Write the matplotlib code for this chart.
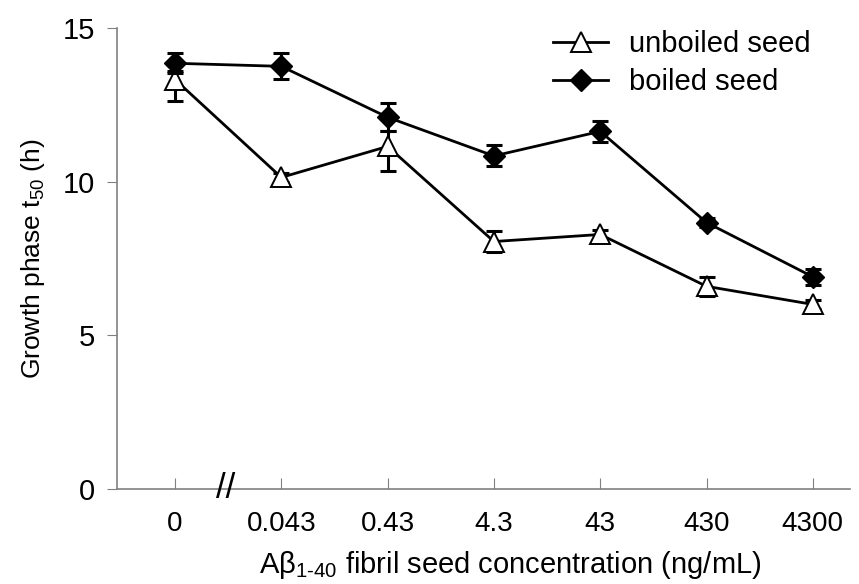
import numpy as np
import matplotlib.pyplot as plt

plt.rcParams['font.family'] = ['Liberation Sans', 'DejaVu Sans']
plt.rcParams['mathtext.fontset'] = 'custom'
plt.rcParams['mathtext.rm'] = 'Liberation Sans'
plt.rcParams['mathtext.it'] = 'Liberation Sans:italic'
plt.rcParams['mathtext.default'] = 'regular'

concentrations = ['0', '0.043', '0.43', '4.3', '43', '430', '4300']

unboiled = [13.33, 10.14, 11.15, 8.05, 8.28, 6.59, 6.0]
unboiled_err_low = [0.71, 0.15, 0.8, 0.35, 0.15, 0.3, 0.15]
unboiled_err_high = [0.27, 0.15, 0.5, 0.35, 0.15, 0.3, 0.15]

boiled = [13.86, 13.76, 12.1, 10.84, 11.64, 8.67, 6.9]
boiled_err = [0.32, 0.42, 0.45, 0.34, 0.34, 0.15, 0.27]

fig = plt.figure(figsize=(8.59, 5.84), dpi=100)
ax = fig.add_axes([117 / 859, 1 - 488.5 / 584, (850 - 117) / 859, (488.5 - 28.3) / 584])

x = np.arange(len(concentrations))

ax.errorbar(x, unboiled, yerr=[unboiled_err_low, unboiled_err_high], fmt='none', ecolor='black',
            capsize=6, capthick=2.2, elinewidth=2.2, zorder=3)
ax.errorbar(x, boiled, yerr=boiled_err, fmt='none', ecolor='black',
            capsize=6, capthick=2.2, elinewidth=2.2, zorder=4)
l1, = ax.plot(x, unboiled, color='black', lw=2, marker='^', ms=14, mfc='white', mec='black',
              mew=1.4, label='unboiled seed', zorder=3)
l2, = ax.plot(x, boiled, color='black', lw=2, marker='D', ms=11, mfc='black', mec='black',
              label='boiled seed', zorder=4)

ax.set_xlim(-0.546, 6.35)
ax.set_ylim(0, 15)
ax.set_yticks([0, 5, 10, 15])
ax.set_xticks(x)
ax.set_xticklabels(concentrations, fontsize=20)
ax.tick_params(axis='y', labelsize=21, direction='out', length=7, color='#808080', pad=9)
ax.tick_params(axis='x', direction='in', length=8, color='#808080', pad=16)

for side in ['top', 'right']:
    ax.spines[side].set_visible(False)
for side in ['left', 'bottom']:
    ax.spines[side].set_color('#808080')
    ax.spines[side].set_linewidth(1.2)

# axis break mark
ax.text(0.48, 0, '//', ha='center', va='center', fontsize=25,
        transform=ax.get_xaxis_transform(), clip_on=False)

ax.set_ylabel('Growth phase t$_{50}$ (h)', fontsize=19, labelpad=11)
ax.set_xlabel('A\u03b2$_{1\\text{-}40}$ fibril seed concentration (ng/mL)', fontsize=21)
ax.xaxis.set_label_coords(0.537, -0.132)

ax.legend(handles=[l1, l2], loc='upper left', bbox_to_anchor=(0.559, 1.053), frameon=False,
          fontsize=21, handlelength=1.9, handletextpad=0.7, labelspacing=0.35)

plt.savefig('out.png', dpi=100)
